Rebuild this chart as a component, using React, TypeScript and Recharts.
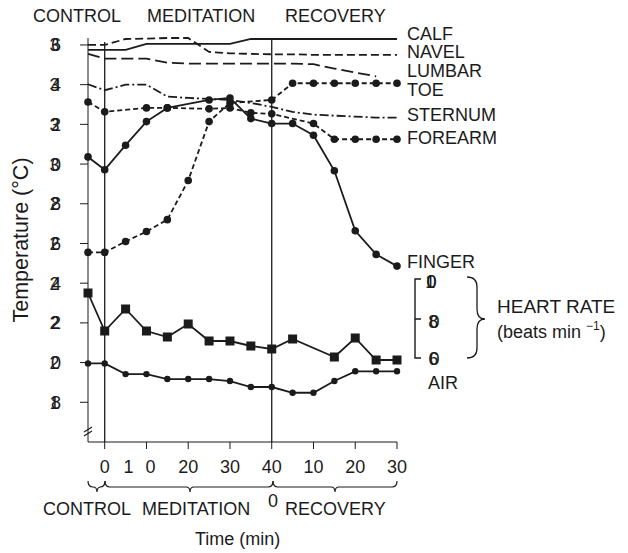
import React from "react"
import { LineChart, Line, XAxis, YAxis, ReferenceLine, Customized } from "recharts"

// minutes: one control reading, meditation 0..40, recovery 40..70 (shown as 0..30)
const minutes = [-4, 0, 5, 10, 15, 20, 25, 30, 35, 40, 45, 50, 55, 60, 65, 70]

const calf = [35.75, 35.75, 35.75, 36.05, 36.05, 36.05, 36.05, 36.05, 36.3, 36.3, 36.3, 36.3, 36.3, 36.3, 36.3, 36.3]
const navel = [36.0, 36.0, 36.3, 36.32, 36.35, 36.35, 35.65, 35.58, 35.55, 35.53, 35.53, 35.5, 35.5, 35.5, 35.5, 35.5]
const lumbar = [35.55, 35.31, 35.31, 35.31, 35.11, 35.06, 35.06, 35.06, 35.06, 35.06, 35.06, 35.03, 34.81, 34.61, 34.42, null]
const toe = [25.55, 25.55, 26.1, 26.6, 27.2, 29.17, 32.14, 33.08, null, 33.23, 34.07, 34.07, 34.07, 34.07, 34.07, 34.07]
const sternum = [34.02, 33.72, 34.0, 34.0, 33.4, 33.33, 33.28, 33.23, 33.08, 32.88, 32.63, 32.49, 32.44, 32.39, 32.34, 32.34]
const forearm = [33.13, 32.63, null, 32.83, 32.83, null, 32.78, 32.83, 32.58, 32.53, null, 32.04, 31.25, 31.25, 31.25, 31.25]
const finger = [30.36, 29.71, 30.95, 32.14, 32.83, null, 33.23, 33.33, 32.29, 32.04, 32.04, 31.45, 29.66, 26.64, 25.45, 24.86]
const air = [19.96, 19.96, 19.42, 19.42, 19.17, 19.17, 19.17, 19.07, 18.77, 18.77, 18.48, 18.48, 19.07, 19.56, 19.56, 19.56]
const heartRate = [92.5, 73.5, 84.5, 73.5, 70.5, 77, 68.5, 68.5, 66, 64.5, 69.5, null, 60.5, 70, 59, 59]

const timeTicks = [0, 10, 20, 30, 40, 50, 60, 70]
const timeTickLabels = ["0", "1 0", "20", "30", "40", "10", "20", "30"]
const tempTicks = [18, 20, 22, 24, 26, 28, 30, 32, 34, 36]
const heartTicks = ["100", "80", "60"]

const W = 628
const H = 553
const LEFT = 88
const RIGHT = 397
const TOP = 38
const BOTTOM = 442
const Y_AXIS_W = 50
const X_AXIS_H = 30
const INK = "#1b1b1b"
const FONT = "'Liberation Sans', Arial, Helvetica, sans-serif"

const toRows = (vals) =>
  minutes.map((t, i) => ({ t, v: vals[i] })).filter((d) => d.v !== null)

const roundDot = (r) => (p) =>
  <circle key={`dot-${p.index}`} cx={p.cx} cy={p.cy} r={r} fill={INK} stroke="none" />

const squareDot = (p) =>
  <rect key={`sq-${p.index}`} x={p.cx - 4.5} y={p.cy - 4.5} width={9} height={9} fill={INK} />

// the scan prints both digits of each label on top of each other
const TempTick = ({ y, payload }) => {
  const s = String(payload.value)
  return (
    <text y={y + 6.5} fontSize={18} fill={INK} fontFamily={FONT} textAnchor="middle">
      <tspan x={LEFT - 33.5}>{s[0]}</tspan>
      <tspan x={LEFT - 32}>{s[1]}</tspan>
    </text>
  )
}

const TimeTick = ({ x, payload }) => {
  const label = timeTickLabels[timeTicks.indexOf(payload.value)]
  const base = BOTTOM + 31
  if (label === "1 0") {
    return (
      <text y={base} fontSize={18} fill={INK} fontFamily={FONT} textAnchor="middle">
        <tspan x={x - 18}>1</tspan>
        <tspan x={x + 4}>0</tspan>
      </text>
    )
  }
  return (
    <text x={x} y={base} fontSize={18} fill={INK} fontFamily={FONT} textAnchor="middle">
      {label}
    </text>
  )
}

const brace = (x1, x2, tip, y) =>
  `M${x1} ${y} Q${x1} ${y + 6} ${x1 + 5} ${y + 6} H${tip - 4} Q${tip} ${y + 6} ${tip} ${y + 11} ` +
  `Q${tip} ${y + 6} ${tip + 4} ${y + 6} H${x2 - 5} Q${x2} ${y + 6} ${x2} ${y}`

const Annotations = () => {
  const t = { fontSize: 18, fill: INK, fontFamily: FONT }
  return (
    <g>
      {/* phase headings */}
      <text {...t} x={33} y={22}>CONTROL</text>
      <text {...t} x={147} y={22}>MEDITATION</text>
      <text {...t} x={285} y={22}>RECOVERY</text>

      {/* series names */}
      <text {...t} x={407} y={39.5}>CALF</text>
      <text {...t} x={407} y={58}>NAVEL</text>
      <text {...t} x={407} y={76.5}>LUMBAR</text>
      <text {...t} x={407} y={95.5}>TOE</text>
      <text {...t} x={407} y={120.5}>STERNUM</text>
      <text {...t} x={407} y={143.5}>FOREARM</text>
      <text {...t} x={407} y={267.5}>FINGER</text>
      <text {...t} x={428} y={388.5}>AIR</text>

      {/* heart rate scale */}
      <path d="M421 279 H415 V358 H421 M415 319 H421" fill="none" stroke={INK} strokeWidth={1.4} />
      {heartTicks.map((h, i) => (
        <text key={h} {...t} y={[287.5, 327.5, 364.5][i]} textAnchor="middle">
          {h.split("").map((c, j) => (
            <tspan key={j} x={[431, 434, 434][i] + (j === 0 ? -0.8 : 0.4)}>{c}</tspan>
          ))}
        </text>
      ))}
      <path d="M467 277 Q477 277 477 287 V309 Q477 319 485 319 Q477 319 477 329 V348 Q477 358 467 358"
        fill="none" stroke={INK} strokeWidth={1.3} />
      <text {...t} fontSize={19} x={497} y={312.5}>HEART RATE</text>
      <text {...t} x={497} y={338}>
        (beats min <tspan fontSize={12} dy={-8}>−1</tspan>
        <tspan dy={8}>)</tspan>
      </text>

      {/* axis break */}
      <rect x={85} y={429} width={6} height={5} fill="#fff" />
      <path d="M84 432 L92 427 M84 436 L92 431" stroke={INK} strokeWidth={1.2} />

      {/* time phases under the axis */}
      <path d={brace(88, 105, 97, 481)} fill="none" stroke={INK} strokeWidth={1.2} />
      <path d={brace(105, 273, 190, 481)} fill="none" stroke={INK} strokeWidth={1.2} />
      <path d={brace(273, 397, 335, 481)} fill="none" stroke={INK} strokeWidth={1.2} />
      <text {...t} x={43} y={515}>CONTROL</text>
      <text {...t} x={142} y={515}>MEDITATION</text>
      <text {...t} x={273} y={507} textAnchor="middle">0</text>
      <text {...t} x={285} y={515}>RECOVERY</text>
      <text {...t} x={195} y={545}>Time (min)</text>
      <text {...t} fontSize={21.5} transform="translate(27.5 240) rotate(-90)" x={0} y={0} textAnchor="middle">
        Temperature (°C)
      </text>
    </g>
  )
}

export default function App() {
  const lineProps = { type: "linear", dataKey: "v", stroke: INK, strokeWidth: 1.8, isAnimationActive: false }
  return (
    <div style={{ position: "absolute", left: 0, top: 0, width: W, height: H, background: "#fff" }}>
      <LineChart
        width={W}
        height={H}
        margin={{ top: TOP, right: W - RIGHT, bottom: H - BOTTOM - X_AXIS_H, left: LEFT - Y_AXIS_W }}
      >
        <XAxis
          type="number"
          dataKey="t"
          domain={[-4, 70]}
          ticks={timeTicks}
          height={X_AXIS_H}
          tickSize={7}
          tick={TimeTick}
          stroke={INK}
          allowDuplicatedCategory={false}
        />
        <YAxis
          yAxisId="temp"
          type="number"
          domain={[16, 36]}
          ticks={tempTicks}
          width={Y_AXIS_W}
          tickSize={8}
          tick={TempTick}
          stroke={INK}
          interval={0}
        />
        <YAxis yAxisId="hr" orientation="right" type="number" domain={[18, 220]} hide />

        <ReferenceLine yAxisId="temp" segment={[{ x: 0, y: 16 }, { x: 0, y: 36.15 }]} stroke={INK} strokeWidth={1.3} ifOverflow="visible" />
        <ReferenceLine yAxisId="temp" segment={[{ x: 40, y: 16 }, { x: 40, y: 36.28 }]} stroke={INK} strokeWidth={1.3} ifOverflow="visible" />

        <Line {...lineProps} yAxisId="temp" data={toRows(calf)} dot={false} />
        <Line {...lineProps} yAxisId="temp" data={toRows(navel)} dot={false} strokeDasharray="8 4" />
        <Line {...lineProps} yAxisId="temp" data={toRows(lumbar)} dot={false} strokeDasharray="12 5" />
        <Line {...lineProps} yAxisId="temp" data={toRows(sternum)} dot={false} strokeDasharray="9 3 2 3" />
        <Line {...lineProps} yAxisId="temp" data={toRows(toe)} dot={roundDot(3.8)} strokeDasharray="5 3" />
        <Line {...lineProps} yAxisId="temp" data={toRows(forearm)} dot={roundDot(3.8)} strokeDasharray="5 3" />
        <Line {...lineProps} yAxisId="temp" data={toRows(finger)} dot={roundDot(3.8)} />
        <Line {...lineProps} yAxisId="temp" data={toRows(air)} dot={roundDot(3.2)} />
        <Line {...lineProps} yAxisId="hr" data={toRows(heartRate)} dot={squareDot} />

        <Customized component={Annotations} />
      </LineChart>
    </div>
  )
}
